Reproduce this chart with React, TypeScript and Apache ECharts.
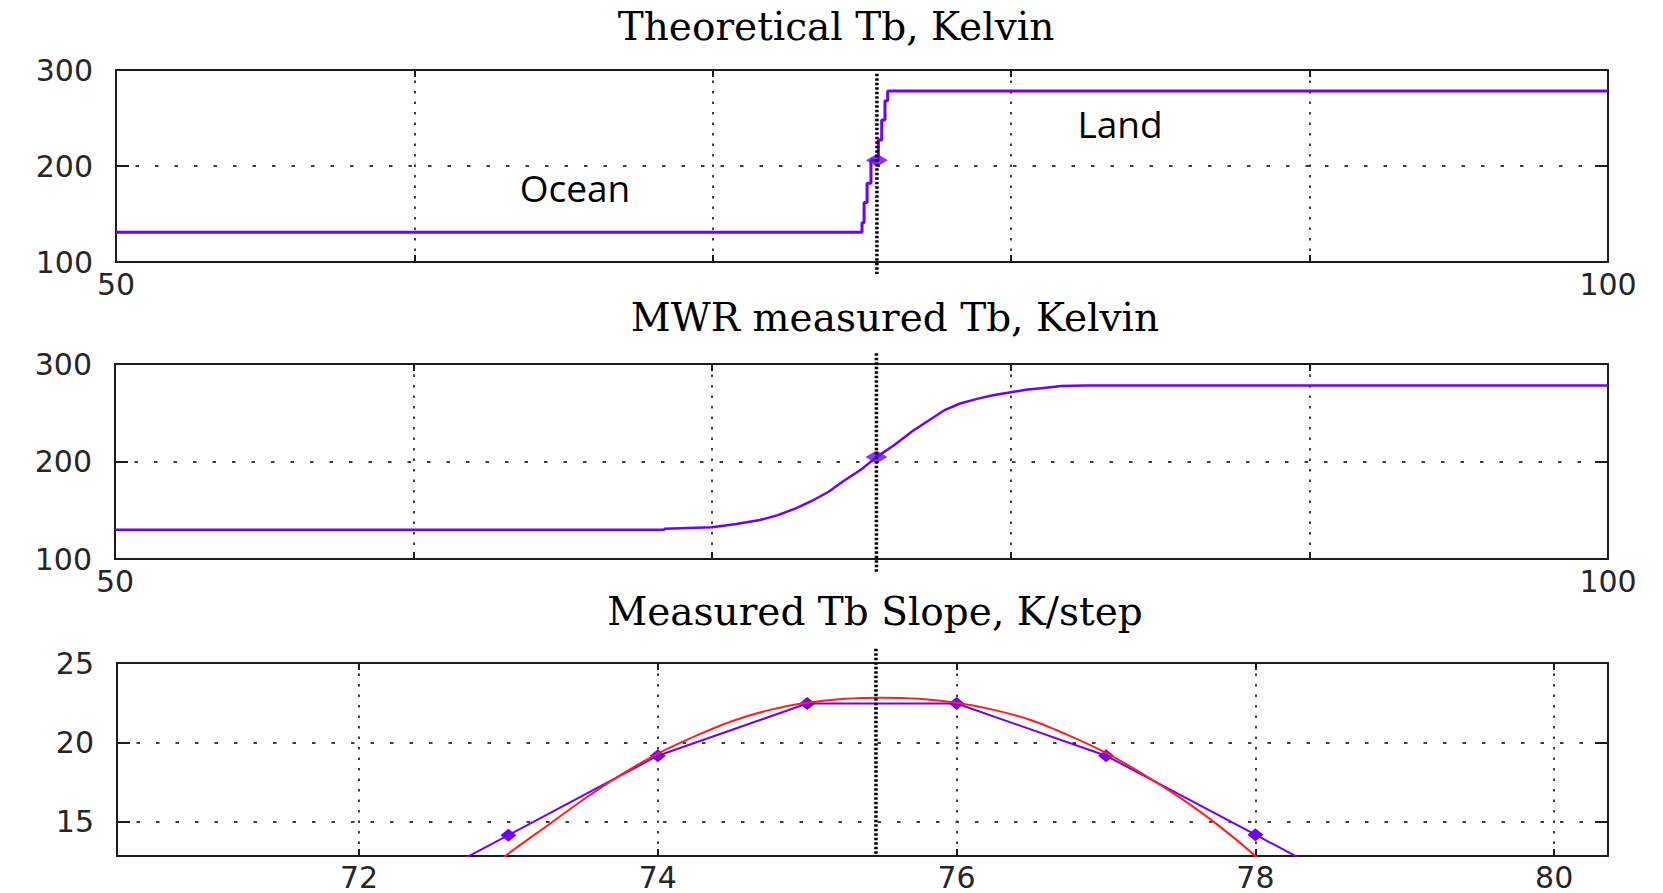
import React, { useEffect, useRef } from 'react';
import * as echarts from 'echarts';

// ---------- data ----------
const panelTitles = ['Theoretical Tb, Kelvin', 'MWR measured Tb, Kelvin', 'Measured Tb Slope, K/step'];
const regionLabels = ['Ocean', 'Land'];

const tbMin = 100;
const tbMax = 300;
const tbStep = 100;
const posMin = 50;
const posMax = 100;
const posStep = 10;
const posLabelsShown = [50, 100];

const slopeXMin = 70.38;
const slopeXMax = 80.36;
const slopeYMin = 12.86;
const slopeYMax = 25;
const slopeXTicks = [72, 74, 76, 78, 80];
const slopeYTicks = [15, 20, 25];

// theoretical brightness temperature (step from ocean to land)
const theoreticalTb: [number, number][] = [
  [50, 131], [75.0, 131], [75.0, 141], [75.07, 141], [75.07, 162], [75.17, 162],
  [75.17, 182], [75.3, 182], [75.3, 206], [75.55, 206], [75.55, 227], [75.66, 227],
  [75.66, 248], [75.77, 248], [75.77, 268], [75.86, 268], [75.86, 278], [100, 278],
];

// MWR measured brightness temperature
const measuredTb: [number, number][] = [
  [50, 130], [68.4, 130], [68.4, 131], [70, 132.5], [70.8, 136], [71.6, 140],
  [72.2, 145], [72.8, 152], [73.3, 159], [73.9, 169], [74.4, 180], [75.0, 192],
  [75.5, 204.5], [76.1, 217], [76.7, 231], [77.2, 241], [77.8, 253], [78.3, 259.5],
  [78.9, 264.5], [79.4, 268], [80, 271], [80.5, 273.5], [81.1, 275.5], [81.7, 277.5],
  [82.5, 278], [100, 278],
];

const coastPos = 75.5;
const coastPosSlope = 75.46;
const coastMarkTheory: [number, number] = [75.5, 206];
const coastMarkMeasured: [number, number] = [75.5, 204.5];
const coastLineTbTop: [number, number] = [296, 87.5];
const coastLineMeasTop: [number, number] = [311, 86];
const coastLineSlope: [number, number] = [25.9, 12.97];

// measured slope (per step)
const slopeSteps = [72, 73, 74, 75, 76, 77, 78, 79];
const slopeMeasured = [9.2, 14.17, 19.17, 22.45, 22.45, 19.17, 14.2, 9.2];

// fitted slope curve
const slopeFitX = [72.93, 72.98, 73.25, 73.5, 73.75, 74, 74.25, 74.5, 74.75, 75, 75.25, 75.5,
  75.75, 76, 76.25, 76.5, 76.75, 77, 77.25, 77.5, 77.75, 78.0, 78.05];
const slopeFitY = [12.3, 12.86, 14.7, 16.4, 17.95, 19.3, 20.4, 21.35, 22.05, 22.5, 22.75, 22.82,
  22.75, 22.5, 22.05, 21.4, 20.45, 19.35, 18.0, 16.5, 14.8, 12.86, 12.3];

// ---------- styles ----------
const BLUE = '#6f00ff';
const RED = '#ff1f1f';
const AXIS_COLOR = '#1c1c1c';
const LABEL_FONT = { fontFamily: 'DejaVu Sans', fontSize: 30, lineHeight: 30, color: '#262626' };

const grids = [
  { left: 116, top: 70, width: 1492, height: 192 },
  { left: 115, top: 364, width: 1493, height: 195 },
  { left: 117, top: 663, width: 1491, height: 193 },
];

function makeXAxes(gridIndex: number, cfg: any) {
  const base = {
    type: 'value',
    gridIndex,
    min: cfg.min,
    max: cfg.max,
    ...(cfg.interval ? { interval: cfg.interval } : {}),
    axisLine: { show: true, onZero: false, lineStyle: { color: AXIS_COLOR, width: 2 } },
  };
  const tick = {
    show: true,
    inside: true,
    length: 7,
    lineStyle: { color: AXIS_COLOR, width: 2 },
    ...(cfg.custom ? { customValues: cfg.custom } : {}),
  };
  return [
    {
      ...base,
      position: 'bottom',
      axisTick: tick,
      axisLabel: {
        show: true,
        margin: cfg.margin ?? 7,
        ...LABEL_FONT,
        showMinLabel: true,
        showMaxLabel: true,
        ...(cfg.custom ? { customValues: cfg.custom } : {}),
        formatter: cfg.formatter,
      },
      splitLine: {
        show: true,
        lineStyle: { color: '#404040', width: 2, type: [2.5, 8] },
      },
    },
    {
      ...base,
      position: 'top',
      axisTick: tick,
      axisLabel: { show: false },
      splitLine: { show: false },
    },
  ];
}

function makeYAxes(gridIndex: number, cfg: any) {
  const base = {
    type: 'value',
    gridIndex,
    min: cfg.min,
    max: cfg.max,
    ...(cfg.interval ? { interval: cfg.interval } : {}),
    axisLine: { show: true, onZero: false, lineStyle: { color: AXIS_COLOR, width: 2 } },
  };
  const tick = {
    show: true,
    inside: true,
    length: 13,
    lineStyle: { color: AXIS_COLOR, width: 2 },
    ...(cfg.custom ? { customValues: cfg.custom } : {}),
  };
  return [
    {
      ...base,
      position: 'left',
      axisTick: tick,
      axisLabel: {
        show: true,
        margin: 23,
        ...LABEL_FONT,
        showMinLabel: true,
        showMaxLabel: true,
        ...(cfg.custom ? { customValues: cfg.custom } : {}),
      },
      splitLine: {
        show: true,
        lineStyle: { color: '#404040', width: 2, type: [3.5, 16] },
      },
    },
    {
      ...base,
      position: 'right',
      axisTick: tick,
      axisLabel: { show: false },
      splitLine: { show: false },
    },
  ];
}

const posFormatter = (v: number) => (posLabelsShown.includes(v) ? String(v) : '');

function coastSeries(xi: number, yi: number, x: number, ys: [number, number]) {
  return {
    type: 'line',
    xAxisIndex: xi,
    yAxisIndex: yi,
    data: [[x, ys[0]], [x, ys[1]]],
    clip: false,
    symbol: 'none',
    silent: true,
    z: 6,
    lineStyle: { color: '#000', width: 3.5, type: [2.5, 2] },
  };
}

export default function App() {
  const ref = useRef<HTMLDivElement>(null);

  useEffect(() => {
    if (!ref.current) return;
    const chart = echarts.init(ref.current, undefined, { renderer: 'svg' });

    const option: any = {
      animation: false,
      backgroundColor: '#ffffff',
      grid: grids.map((g) => ({ ...g, containLabel: false, show: false })),
      xAxis: [
        ...makeXAxes(0, { min: posMin, max: posMax, interval: posStep, formatter: posFormatter }),
        ...makeXAxes(1, { min: posMin, max: posMax, interval: posStep, formatter: posFormatter }),
        ...makeXAxes(2, { min: slopeXMin, max: slopeXMax, custom: slopeXTicks, margin: 6 }),
      ],
      yAxis: [
        ...makeYAxes(0, { min: tbMin, max: tbMax, interval: tbStep }),
        ...makeYAxes(1, { min: tbMin, max: tbMax, interval: tbStep }),
        ...makeYAxes(2, { min: slopeYMin, max: slopeYMax, custom: slopeYTicks }),
      ],
      series: [
        {
          type: 'line',
          xAxisIndex: 0,
          yAxisIndex: 0,
          data: theoreticalTb,
          showSymbol: false,
          symbol: 'none',
          lineStyle: { color: BLUE, width: 3 },
          z: 3,
        },
        {
          type: 'scatter',
          xAxisIndex: 0,
          yAxisIndex: 0,
          data: [coastMarkTheory],
          symbol: 'diamond',
          symbolSize: [22, 13],
          itemStyle: { color: BLUE },
          z: 4,
        },
        coastSeries(0, 0, coastPos, coastLineTbTop),
        {
          type: 'line',
          xAxisIndex: 2,
          yAxisIndex: 2,
          data: measuredTb,
          showSymbol: false,
          symbol: 'none',
          lineStyle: { color: BLUE, width: 2.5 },
          z: 3,
        },
        {
          type: 'scatter',
          xAxisIndex: 2,
          yAxisIndex: 2,
          data: [coastMarkMeasured],
          symbol: 'diamond',
          symbolSize: [22, 13],
          itemStyle: { color: BLUE },
          z: 4,
        },
        coastSeries(2, 2, coastPos, coastLineMeasTop),
        {
          type: 'line',
          xAxisIndex: 4,
          yAxisIndex: 4,
          data: slopeSteps.map((x, i) => [x, slopeMeasured[i]]),
          symbol: 'diamond',
          symbolSize: [16, 13],
          showSymbol: true,
          itemStyle: { color: BLUE },
          lineStyle: { color: BLUE, width: 2 },
          clip: true,
          z: 3,
        },
        {
          type: 'line',
          xAxisIndex: 4,
          yAxisIndex: 4,
          data: slopeFitX.map((x, i) => [x, slopeFitY[i]]),
          showSymbol: false,
          symbol: 'none',
          smooth: 0.2,
          lineStyle: { color: RED, width: 2 },
          clip: true,
          z: 4,
        },
        coastSeries(4, 4, coastPosSlope, coastLineSlope),
      ],
      graphic: [
        {
          type: 'text', x: 836, y: 26, z: 10,
          style: { text: panelTitles[0], font: '39px "DejaVu Serif"', fill: '#000', textAlign: 'center', textVerticalAlign: 'middle' },
        },
        {
          type: 'text', x: 895, y: 317, z: 10,
          style: { text: panelTitles[1], font: '39px "DejaVu Serif"', fill: '#000', textAlign: 'center', textVerticalAlign: 'middle' },
        },
        {
          type: 'text', x: 875, y: 611, z: 10,
          style: { text: panelTitles[2], font: '39px "DejaVu Serif"', fill: '#000', textAlign: 'center', textVerticalAlign: 'middle' },
        },
        {
          type: 'text', x: 575, y: 187, z: 10,
          style: { text: regionLabels[0], font: '37px "Open Sans"', fill: '#000', textAlign: 'center', textVerticalAlign: 'middle' },
        },
        {
          type: 'text', x: 1120, y: 123, z: 10,
          style: { text: regionLabels[1], font: '37px "Open Sans"', fill: '#000', textAlign: 'center', textVerticalAlign: 'middle' },
        },
      ],
    };

    chart.setOption(option);
    return () => chart.dispose();
  }, []);

  return (
    <div
      ref={ref}
      style={{ position: 'absolute', left: 0, top: 0, width: 1663, height: 893, background: '#fff' }}
    />
  );
}
